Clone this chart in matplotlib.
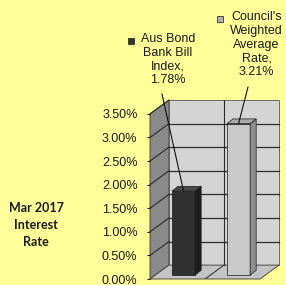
import matplotlib
matplotlib.use("Agg")
import matplotlib.pyplot as plt
from matplotlib.patches import Polygon, Rectangle
import numpy as np

# ---- data ----
series_names = ["Aus Bond\nBank Bill\nIndex,", "Council's\nWeighted\nAverage\nRate,"]
values = [1.78, 3.21]
value_labels = ["1.78%", "3.21%"]
tick_values = [0.0, 0.5, 1.0, 1.5, 2.0, 2.5, 3.0, 3.5]
tick_labels = ["0.00%", "0.50%", "1.00%", "1.50%", "2.00%", "2.50%", "3.00%", "3.50%"]
side_note = "Mar 2017\nInterest\nRate"

# ---- style ----
BG = "#FFFF99"
FRONT = ["#303030", "#C9C9C9"]
SIDE = ["#1c1c1c", "#8f8f8f"]
TOP = ["#4a4a4a", "#a8a8a8"]
KEY = ["#333333", "#b0b0b0"]
FONT = "Liberation Sans"

W, H = 286, 285
fig = plt.figure(figsize=(W / 100, H / 100), dpi=100, facecolor=BG)

def fx(px):
    return px / W

def fy(py):
    return (H - py) / H

ax = fig.add_axes([fx(150), fy(279), 129 / W, 179 / H])
ax.patch.set_alpha(0)
for s in ax.spines.values():
    s.set_visible(False)

DX, DY = 0.345, 0.295          # depth of the 3-D box (data units)
ax.set_xlim(-0.5, 1.5 + DX)
ax.set_ylim(0, 3.5 + DY)
ax.set_xticks([])
ax.set_yticks(tick_values, labels=tick_labels)
ax.tick_params(axis="y", length=2.5, width=0.8, color="#222222", pad=6.5,
               labelsize=9, labelcolor="#1a1a1a")
for lab in ax.get_yticklabels():
    lab.set_fontfamily(FONT)

ymax = tick_values[-1]
x0, x1 = -0.5, 1.5
# walls
left_wall = Polygon([(x0, 0), (x0, ymax), (x0 + DX, ymax + DY), (x0 + DX, DY)],
                    closed=True, facecolor="#8a8a8a", edgecolor="#3a3a3a", lw=0.6,
                    zorder=1, clip_on=False)
back_wall = Polygon([(x0 + DX, DY), (x1 + DX, DY), (x1 + DX, ymax + DY), (x0 + DX, ymax + DY)],
                    closed=True, facecolor="#d4d4d4", edgecolor="#555555", lw=0.6,
                    zorder=1, clip_on=False)
floor = Polygon([(x0, 0), (x1, 0), (x1 + DX, DY), (x0 + DX, DY)],
                closed=True, facecolor="#c4c4c4", edgecolor="#3a3a3a", lw=0.6,
                zorder=1, clip_on=False)
for p in (left_wall, back_wall, floor):
    ax.add_patch(p)

# gridlines
for v in tick_values[1:-1]:
    ax.plot([x0 + DX, x1 + DX], [v + DY, v + DY], color="#2a2a2a", lw=0.9, zorder=2,
            clip_on=False)
for v in tick_values[1:]:
    ax.plot([x0, x0 + DX], [v, v + DY], color="#2a2a2a", lw=0.8, zorder=2, clip_on=False)
ax.plot([0.5 + DX, 0.5 + DX], [DY, ymax + DY], color="#2a2a2a", lw=0.8, zorder=2)
ax.plot([0.5, 0.5 + DX], [0, DY], color="#2a2a2a", lw=0.7, zorder=2)

# bars
BFX, BFY = 0.11, 0.084
BDX, BDY = 0.11, 0.10
pos = np.arange(len(values))
bars = ax.bar(pos + BFX, values, width=0.42, bottom=BFY, color=FRONT,
              edgecolor="#1a1a1a", linewidth=0.5, zorder=4)
tops = []
for i, p in enumerate(bars.patches):
    bx, bw, by, bh = p.get_x(), p.get_width(), p.get_y(), p.get_height()
    side = Polygon([(bx + bw, by), (bx + bw + BDX, by + BDY),
                    (bx + bw + BDX, by + bh + BDY), (bx + bw, by + bh)],
                   closed=True, facecolor=SIDE[i], edgecolor="#1a1a1a", lw=0.5, zorder=4)
    top = Polygon([(bx, by + bh), (bx + bw, by + bh), (bx + bw + BDX, by + bh + BDY),
                   (bx + BDX, by + bh + BDY)],
                  closed=True, facecolor=TOP[i], edgecolor="#1a1a1a", lw=0.5, zorder=4)
    ax.add_patch(side)
    ax.add_patch(top)
    tops.append((bx + bw / 2, by + bh))

# data labels with legend keys and leader lines
label_cx = [168, 256.5]
label_top = [33, 11]
line_start = [(162, 94), (248, 87)]
key_pos = [(128, 38), (217, 16)]
for i in range(len(values)):
    txt = series_names[i] + "\n" + value_labels[i]
    fig.text(fx(label_cx[i]), fy(label_top[i]), txt, ha="center", va="top",
             fontsize=9, family=FONT, color="#1a1a1a", linespacing=1.2)
    kx, ky = key_pos[i]
    fig.add_artist(Rectangle((fx(kx), fy(ky + 6)), 6 / W, 6 / H, transform=fig.transFigure,
                             facecolor=KEY[i], edgecolor="#1a1a1a", lw=0.5))
    sx, sy = line_start[i]
    ax.annotate("", xy=tops[i], xycoords="data",
                xytext=(sx, H - sy), textcoords="figure pixels",
                arrowprops=dict(arrowstyle="-", color="#111111", lw=0.8,
                                shrinkA=0, shrinkB=0), annotation_clip=False, zorder=6)

fig.text(fx(36), fy(225), side_note, ha="center", va="center", fontsize=9,
         family="Lato", fontweight="bold", color="#1a1a1a", linespacing=1.45)

fig.savefig("out.png", dpi=100, facecolor=BG)
